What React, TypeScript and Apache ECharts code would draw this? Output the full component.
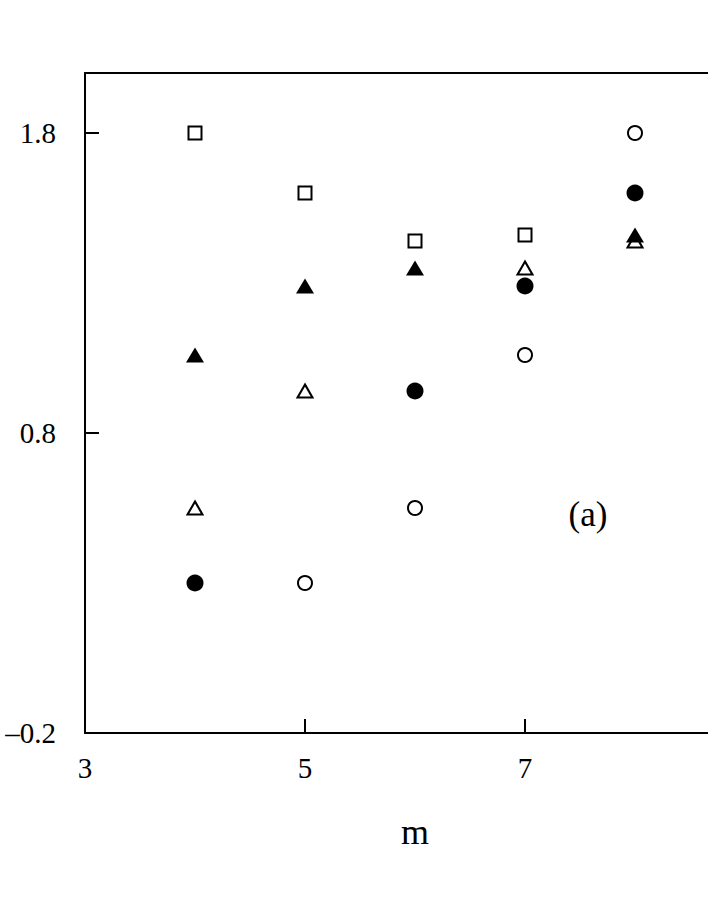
import React, { useEffect, useRef } from "react";
import * as echarts from "echarts";

// x positions (m) and values per series
const squareX = [4, 5, 6, 7];
const squareY = [1.8, 1.6, 1.44, 1.46];
const filledTriX = [4, 5, 6, 8];
const filledTriY = [1.06, 1.29, 1.35, 1.46];
const openTriX = [4, 5, 7, 8];
const openTriY = [0.55, 0.94, 1.35, 1.44];
const filledCircX = [4, 6, 7, 8];
const filledCircY = [0.3, 0.94, 1.29, 1.6];
const openCircX = [5, 6, 7, 8];
const openCircY = [0.3, 0.55, 1.06, 1.8];

const xTicks = [3, 5, 7];
const yTicks = [-0.2, 0.8, 1.8];
const xLabel = "m";
const panelLabel = "(a)";

// visible x window: 3 .. 3 + 623/110 (axis continues beyond the picture edge)
const X_MIN = 3;
const X_MAX = 3 + 623 / 110;
const Y_MIN = -0.2;
const Y_MAX = 2.0;

const FONT = "'Liberation Serif', 'DejaVu Serif', serif";

const pairs = (xs: number[], ys: number[]) => xs.map((x, i) => [x, ys[i]]);

export default function App() {
  const ref = useRef<HTMLDivElement>(null);
  useEffect(() => {
    if (!ref.current) return;
    const chart = echarts.init(ref.current, undefined, { renderer: "svg" });
    const openStyle = { color: "#fff", borderColor: "#000", borderWidth: 2, opacity: 1 };
    const filledStyle = { color: "#000", borderWidth: 0, opacity: 1 };
    const axisLine = { show: true, onZero: false, lineStyle: { color: "#000", width: 2 } };
    chart.setOption({
      animation: false,
      backgroundColor: "#fff",
      grid: {
        left: 85,
        top: 73,
        width: 623,
        height: 660,
        show: false,
        containLabel: false,
      },
      xAxis: [
        {
          type: "value",
          min: X_MIN,
          max: X_MAX,
          interval: 2,
          axisLine,
          axisTick: {
            show: true,
            inside: true,
            length: 14,
            customValues: xTicks,
            lineStyle: { color: "#000", width: 2 },
          },
          axisLabel: {
            customValues: xTicks,
            margin: 20,
            fontFamily: FONT,
            fontSize: 29,
            color: "#000",
          },
          splitLine: { show: false },
        },
        {
          type: "value",
          position: "top",
          min: X_MIN,
          max: X_MAX,
          axisLine,
          axisTick: { show: false },
          axisLabel: { show: false },
          splitLine: { show: false },
        },
      ],
      yAxis: {
        type: "value",
        min: Y_MIN,
        max: Y_MAX,
        interval: 1,
        axisLine,
        axisTick: {
          show: true,
          inside: true,
          length: 14,
          customValues: yTicks,
          lineStyle: { color: "#000", width: 2 },
        },
        axisLabel: {
          customValues: yTicks,
          margin: 29,
          fontFamily: FONT,
          fontSize: 29,
          color: "#000",
          formatter: (v: number) => {
            const s = Math.abs(v).toFixed(1);
            return v < -1e-9 ? "\u2013" + s : s;
          },
        },
        splitLine: { show: false },
      },
      graphic: [
        {
          type: "text",
          x: 415,
          y: 832,
          style: {
            text: xLabel,
            fontFamily: FONT,
            fontSize: 36,
            fill: "#000",
            align: "center",
            verticalAlign: "middle",
          },
        },
        {
          type: "text",
          x: 588,
          y: 514,
          style: {
            text: panelLabel,
            fontFamily: FONT,
            fontSize: 35,
            fill: "#000",
            align: "center",
            verticalAlign: "middle",
          },
        },
      ],
      series: [
        {
          name: "square",
          type: "scatter",
          symbol: "rect",
          symbolSize: 13,
          itemStyle: openStyle,
          data: pairs(squareX, squareY),
          z: 2,
        },
        {
          name: "openTri",
          type: "scatter",
          symbol: "triangle",
          symbolSize: [15, 13],
          itemStyle: openStyle,
          data: pairs(openTriX, openTriY),
          z: 3,
        },
        {
          name: "filledTri",
          type: "scatter",
          symbol: "triangle",
          symbolSize: [18, 15],
          itemStyle: filledStyle,
          data: pairs(filledTriX, filledTriY),
          z: 4,
        },
        {
          name: "openCirc",
          type: "scatter",
          symbol: "circle",
          symbolSize: 14,
          itemStyle: openStyle,
          data: pairs(openCircX, openCircY),
          z: 3,
        },
        {
          name: "filledCirc",
          type: "scatter",
          symbol: "circle",
          symbolSize: 17,
          itemStyle: filledStyle,
          data: pairs(filledCircX, filledCircY),
          z: 4,
        },
      ],
    });
    return () => chart.dispose();
  }, []);
  return (
    <div
      ref={ref}
      style={{ position: "absolute", left: 0, top: 0, width: 708, height: 916 }}
    />
  );
}
